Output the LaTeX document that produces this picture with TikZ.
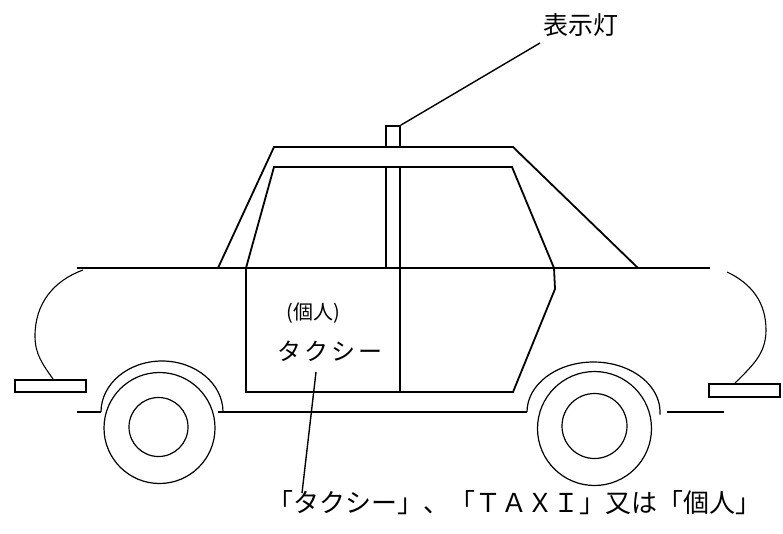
\documentclass[tikz,border=0pt]{standalone}
\usepackage{fontspec}
\newfontfamily\jp{Noto Sans CJK JP}
\begin{document}
\begin{tikzpicture}[x=1pt,y=-1pt,
  body/.style={line width=1.8pt,line join=miter},
  curve/.style={line width=1.1pt},
  wheel/.style={line width=1.2pt},
  leader/.style={line width=1.4pt},
  lbl/.style={inner sep=0pt,font=\jp},
  lampbox/.style={draw,line width=1.8pt,inner sep=0pt,minimum width=14pt,minimum height=21pt}]
\useasboundingbox (0,0) rectangle (783,533);
% main body lines
\draw[body] (77,268) -- (710,268);
\draw[body] (77,412) -- (101,412);
\draw[body] (218,412) -- (527,412);
\draw[body] (667,412) -- (724,412);
% roof / cabin
\draw[body] (218,268) -- (274,147) -- (513,147) -- (638,268);
\draw[body] (246,392) -- (246,268) -- (274,167) -- (512,167) -- (554,268) -- (555,289) -- (513,392) -- cycle;
\draw[body] (386,167) -- (386,268);
\draw[body] (400,167) -- (400,392);
% lamp
\node[lampbox] (lamp) at (393,136.5) {};
% front and rear curves
\draw[curve] (83,270) to[out=200,in=90] (35,336) to[out=-90,in=125] (53,379);
\draw[curve] (727,272) to[out=-25,in=90] (766,330) to[out=-90,in=45] (735,383);
% bumpers
\draw[body] (15,380) rectangle (86,392);
\draw[body] (709,384) rectangle (780,397);
% fenders
\draw[wheel] (101,412) arc[start angle=180,end angle=0,x radius=61pt,y radius=51pt];
\draw[wheel] (527,412) arc[start angle=180,end angle=-3,x radius=66.5pt,y radius=50pt];
% wheels
\draw[wheel] (159.5,428) circle[radius=55.5pt];
\draw[wheel] (158.5,427) circle[radius=29.5pt];
\draw[wheel] (594.5,428.5) circle[radius=57pt];
\draw[wheel] (594.5,426) circle[radius=32.5pt];
% labels
\node[lbl,font=\jp\fontsize{25}{25}\selectfont] (lamplabel) at (581,25) {表示灯};
\coordinate (lampend) at (540,43);
\draw[leader] (lamp.north east) -- (lampend);
\node[lbl,font=\jp\fontsize{20}{20}\selectfont] (kojin) at (313,313) {(個人)};
\node[lbl,font=\jp\fontsize{24}{24}\selectfont] (taxi) at (330,351) {タ\kern3ptク\kern3ptシ\kern3ptー};
\coordinate (ldtop) at (316,372);
\coordinate (ldbot) at (302,493);
\draw[leader] (ldtop) -- (ldbot);
\node[lbl,font=\jp\fontsize{26}{26}\selectfont] (caption) at (514,503) {「タクシー」、「ＴＡＸＩ」又は「個人」};
\end{tikzpicture}
\end{document}
